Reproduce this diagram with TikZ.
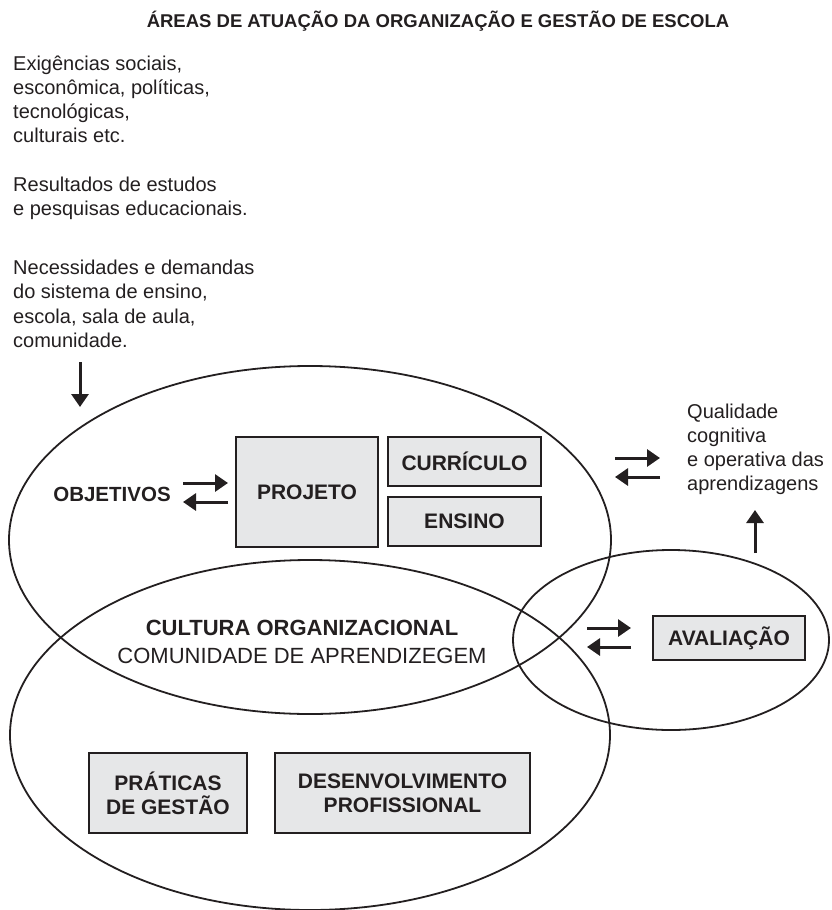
\documentclass[tikz,border=0pt]{standalone}
\usepackage{fontspec}
\setmainfont{Liberation Sans}
\usetikzlibrary{arrows.meta}
\definecolor{ink}{HTML}{231F20}
\definecolor{boxfill}{HTML}{E6E7E8}
\tikzset{
  boxnode/.style={draw=ink, line width=2pt, fill=boxfill, inner sep=0pt, font=\fontsize{21}{24}\selectfont\bfseries, text=ink, align=center},
  bold/.style={font=\fontsize{21}{24}\selectfont\bfseries, text=ink, inner sep=0pt},
  line/.style={font=\fontsize{20}{24}\selectfont, text=ink, inner sep=0pt, anchor=west, text height=14.5pt, text depth=4pt},
  ring/.style={draw=ink, line width=1.8pt},
  arr/.style={draw=ink, line width=3pt, -{Triangle[length=13pt,width=17pt]}},
}
\begin{document}
\begin{tikzpicture}[x=1pt,y=-1pt]
\useasboundingbox (0,0) rectangle (832,910);
% title
\node[font=\fontsize{18.5}{22}\selectfont\bfseries, text=ink] (title) at (438,21) {ÁREAS DE ATUAÇÃO DA ORGANIZAÇÃO E GESTÃO DE ESCOLA};
% left texts
\node[line] (l1) at (13,65) {Exigências sociais,};
\node[line] (l2) at (13,89) {esconômica, políticas,};
\node[line] (l3) at (13,113) {tecnológicas,};
\node[line] (l4) at (13,137) {culturais etc.};
\node[line] (l5) at (13,186) {Resultados de estudos};
\node[line] (l6) at (13,210) {e pesquisas educacionais.};
\node[line] (l7) at (13,269) {Necessidades e demandas};
\node[line] (l8) at (13,293.5) {do sistema de ensino,};
\node[line] (l9) at (13,318) {escola, sala de aula,};
\node[line] (l10) at (13,342.5) {comunidade.};
% ellipses
\draw[ring] (310,735) ellipse [x radius=300, y radius=175];
\draw[ring] (310,540) ellipse [x radius=301, y radius=174];
\draw[ring] (671,640) ellipse [x radius=158, y radius=90];
% down arrow
\coordinate (d1) at (80,362);
\coordinate (d2) at (80,407);
\draw[arr] (d1) -- (d2);
% boxes
\node[boxnode, minimum width=142pt, minimum height=110pt] (projeto) at (307,492) {PROJETO};
\node[boxnode, minimum width=153pt, minimum height=49pt] (curr) at (464.5,461.5) {CURRÍCULO};
\node[boxnode, minimum width=153pt, minimum height=49pt] (ens) at (464.5,521.5) {ENSINO};
\node[bold, font=\fontsize{20.5}{24}\selectfont\bfseries] (obj) at (112,494) {OBJETIVOS};
\node[boxnode, minimum width=152pt, minimum height=44pt] (aval) at (729,638) {AVALIAÇÃO};
\node[boxnode, minimum width=158pt, minimum height=80pt] (prat) at (168,793) {PRÁTICAS\\DE GESTÃO};
\node[boxnode, minimum width=255pt, minimum height=80pt] (desen) at (402.5,793) {DESENVOLVIMENTO\\PROFISSIONAL};
% culture
\node[font=\fontsize{22}{26}\selectfont\bfseries, text=ink] (cult) at (302,628) {CULTURA ORGANIZACIONAL};
\node[font=\fontsize{22}{26}\selectfont, text=ink] (com) at (302,656) {COMUNIDADE DE APRENDIZEGEM};
% quality
\node[line] (q1) at (687,413) {Qualidade};
\node[line] (q2) at (687,437) {cognitiva};
\node[line] (q3) at (687,461) {e operativa das};
\node[line] (q4) at (687,485) {aprendizagens};
% arrow pairs
\coordinate (a1) at (183,483); \coordinate (a2) at (228,483);
\coordinate (a3) at (228,502); \coordinate (a4) at (183,502);
\draw[arr] (a1) -- (a2); \draw[arr] (a3) -- (a4);
\coordinate (b1) at (615,458); \coordinate (b2) at (660,458);
\coordinate (b3) at (660,477); \coordinate (b4) at (615,477);
\draw[arr] (b1) -- (b2); \draw[arr] (b3) -- (b4);
\coordinate (c1) at (587,628); \coordinate (c2) at (631,628);
\coordinate (c3) at (631,647); \coordinate (c4) at (587,647);
\draw[arr] (c1) -- (c2); \draw[arr] (c3) -- (c4);
\coordinate (u1) at (755,553); \coordinate (u2) at (755,510);
\draw[arr] (u1) -- (u2);
\end{tikzpicture}
\end{document}
